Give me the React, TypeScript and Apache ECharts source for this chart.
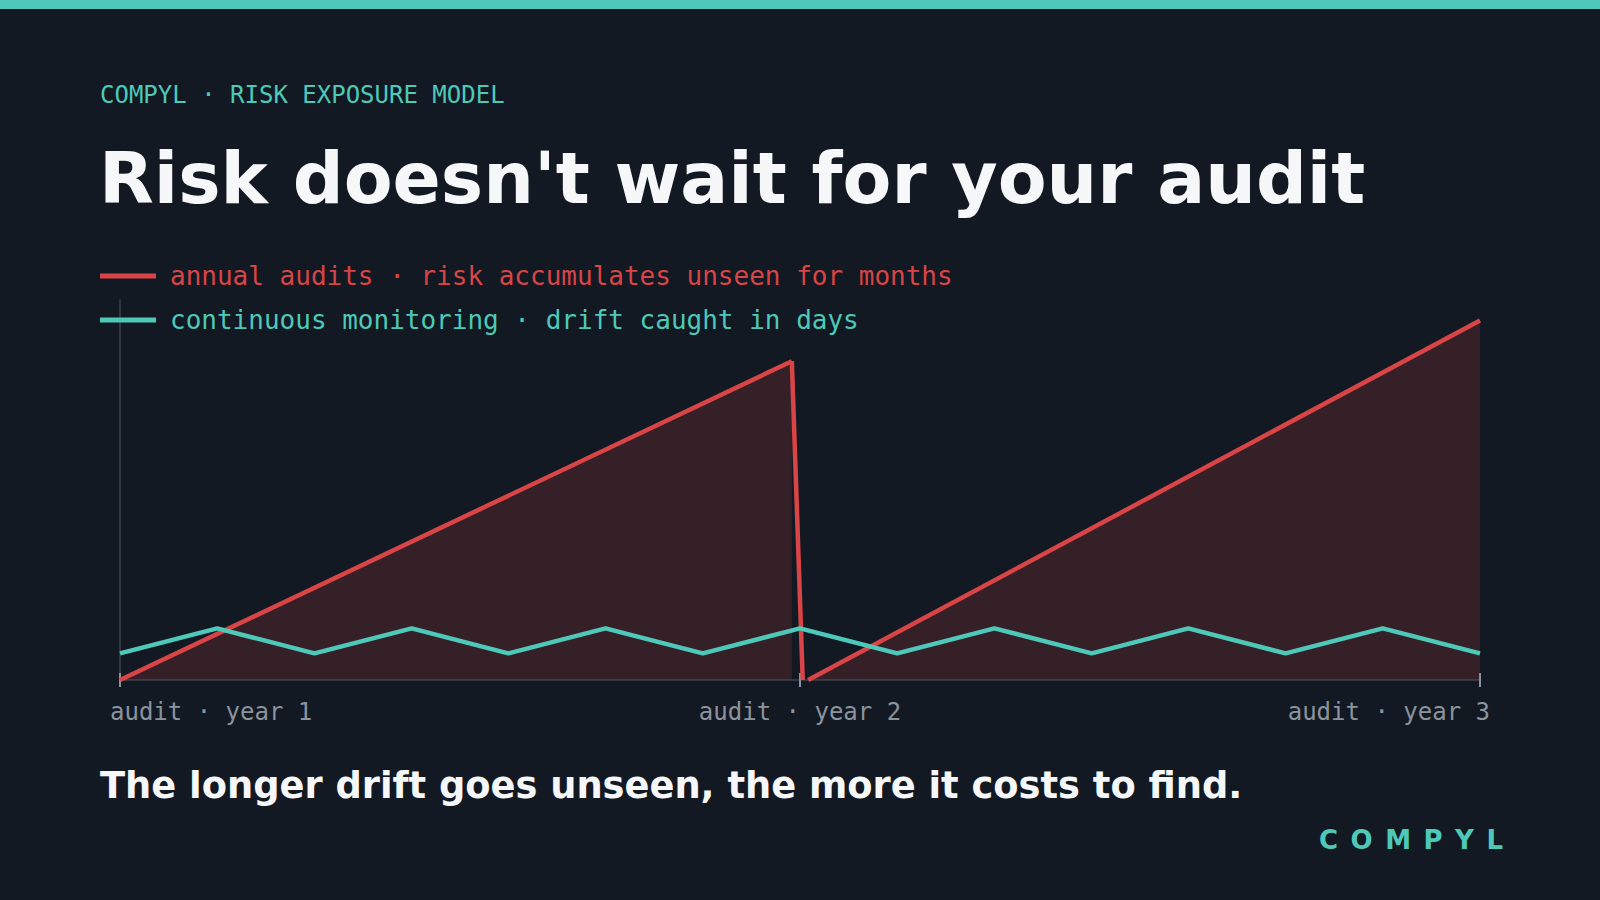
import React, { useEffect, useRef } from "react";
import * as echarts from "echarts";

// ---------- data ----------
const xTickLabels = ["audit · year 1", "audit · year 2", "audit · year 3"];
const annualLabel = "annual audits · risk accumulates unseen for months";
const monitoringLabel = "continuous monitoring · drift caught in days";

// x in years since first audit, y = relative risk exposure (0-100)
const annualRiseYear1: [number, number][] = [
  [0, 0],
  [0.988, 83.9],
];
const annualReset: [number, number][] = [
  [0.988, 83.9],
  [1.004, 0],
];
const annualRiseYear2: [number, number][] = [
  [1.012, 0],
  [2, 94.6],
];
const monitoringX = [0, 0.143, 0.286, 0.429, 0.571, 0.714, 0.857, 1, 1.143, 1.286, 1.429, 1.571, 1.714, 1.857, 2];
const monitoringY = [7.0, 13.6, 7.0, 13.6, 7.0, 13.6, 7.0, 13.6, 7.0, 13.6, 7.0, 13.6, 7.0, 13.6, 7.0];

// ---------- style ----------
const BG = "#131922";
const TEAL = "#4ec9b9";
const RED = "#d94446";
const FILL = "rgba(217,68,70,0.18)";
const GRAY = "#8b949e";
const AXIS = "#30363d";
const MONO = '"DejaVu Sans Mono", monospace';
const DISPLAY = '"DejaVu Sans", sans-serif';

export default function App() {
  const ref = useRef<HTMLDivElement>(null);

  useEffect(() => {
    document.body.style.margin = "0";
    document.body.style.background = BG;
    if (!ref.current) return;
    const chart = echarts.init(ref.current, undefined, { renderer: "svg" });

    const redLine = { color: RED, width: 4.5 };
    const option: any = {
      animation: false,
      backgroundColor: BG,
      grid: [
        { left: 120, top: 300, width: 1360, height: 380 },
        { left: 110, top: 300, width: 1380, height: 380 },
      ],
      xAxis: [
        {
          gridIndex: 0, type: "value", position: "bottom", min: 0, max: 2, interval: 1,
          axisLine: { show: true, lineStyle: { color: AXIS, width: 2 } },
          axisTick: { show: false }, axisLabel: { show: false }, splitLine: { show: false },
        },
        {
          gridIndex: 0, type: "value", position: "bottom", min: 0, max: 2, interval: 1, offset: -7,
          axisLine: { show: false },
          axisTick: { show: true, length: 14, lineStyle: { color: GRAY, width: 2 } },
          axisLabel: { show: false }, splitLine: { show: false },
        },
        {
          gridIndex: 1, type: "value", position: "bottom", min: 0, max: 2, interval: 1,
          axisLine: { show: false }, axisTick: { show: false }, splitLine: { show: false },
          axisLabel: {
            show: true,
            margin: 20,
            fontFamily: MONO,
            fontSize: 24,
            color: GRAY,
            showMinLabel: true,
            showMaxLabel: true,
            alignMinLabel: "left",
            alignMaxLabel: "right",
            formatter: (v: number) => xTickLabels[Math.round(v)] ?? "",
          },
        },
      ],
      yAxis: [
        {
          gridIndex: 0, type: "value", min: 0, max: 100,
          axisLine: { show: true, lineStyle: { color: AXIS, width: 2 } },
          axisTick: { show: false }, axisLabel: { show: false }, splitLine: { show: false },
        },
        { gridIndex: 1, type: "value", min: 0, max: 100, show: false },
      ],
      legend: {
        show: true,
        orient: "vertical",
        left: 100,
        top: 263,
        padding: 0,
        itemWidth: 56,
        itemHeight: 5,
        itemGap: 18,
        icon: "rect",
        selectedMode: false,
        itemStyle: { borderWidth: 0 },
        textStyle: { fontFamily: MONO, fontSize: 26, lineHeight: 26, padding: [0, 0, 0, 9] },
        data: [
          { name: annualLabel, textStyle: { color: RED } },
          { name: monitoringLabel, textStyle: { color: TEAL } },
        ],
      },
      series: [
        {
          name: annualLabel, type: "line", xAxisIndex: 0, yAxisIndex: 0,
          data: annualRiseYear1, showSymbol: false, symbol: "none",
          lineStyle: redLine, itemStyle: { color: RED },
          areaStyle: { color: FILL, opacity: 1 }, z: 2,
        },
        {
          name: annualLabel, type: "line", xAxisIndex: 0, yAxisIndex: 0,
          data: annualReset, showSymbol: false, symbol: "none",
          lineStyle: redLine, itemStyle: { color: RED }, z: 2,
        },
        {
          name: annualLabel, type: "line", xAxisIndex: 0, yAxisIndex: 0,
          data: annualRiseYear2, showSymbol: false, symbol: "none",
          lineStyle: redLine, itemStyle: { color: RED },
          areaStyle: { color: FILL, opacity: 1 }, z: 2,
        },
        {
          name: monitoringLabel, type: "line", xAxisIndex: 0, yAxisIndex: 0,
          data: monitoringX.map((x, i) => [x, monitoringY[i]]),
          showSymbol: false, symbol: "none",
          lineStyle: { color: TEAL, width: 4.5 }, itemStyle: { color: TEAL }, z: 3,
        },
      ],
      graphic: [
        { type: "rect", x: 0, y: 0, shape: { width: 1600, height: 9 }, style: { fill: TEAL }, silent: true },
        {
          type: "text", x: 100, y: 95,
          style: { text: "COMPYL · RISK EXPOSURE MODEL", fontFamily: MONO, fontSize: 24, fill: TEAL, align: "left", verticalAlign: "middle" },
        },
        {
          type: "text", x: 99, y: 178,
          style: { text: "Risk doesn't wait for your audit", fontFamily: DISPLAY, fontSize: 71.2, fontWeight: "bold", fill: "#f6f7f9", align: "left", verticalAlign: "middle" },
        },
        {
          type: "text", x: 100, y: 785,
          style: { text: "The longer drift goes unseen, the more it costs to find.", fontFamily: DISPLAY, fontSize: 36.8, fontWeight: "bold", fill: "#f6f7f9", align: "left", verticalAlign: "middle" },
        },
        {
          type: "text", x: 1319, y: 840,
          style: { text: "COMPYL", fontFamily: DISPLAY, fontSize: 26, fontWeight: "bold", fill: TEAL, align: "left", verticalAlign: "middle" },
        },
      ],
    };
    chart.setOption(option);

    const spaceBrand = () => {
      const texts = ref.current?.querySelectorAll("text") ?? [];
      texts.forEach((t) => {
        if (t.textContent === "COMPYL") t.setAttribute("letter-spacing", "12.5px");
      });
    };
    spaceBrand();
    chart.on("finished", spaceBrand);
    const timer = setTimeout(spaceBrand, 50);

    return () => {
      clearTimeout(timer);
      chart.dispose();
    };
  }, []);

  return <div ref={ref} style={{ width: 1600, height: 900 }} />;
}
